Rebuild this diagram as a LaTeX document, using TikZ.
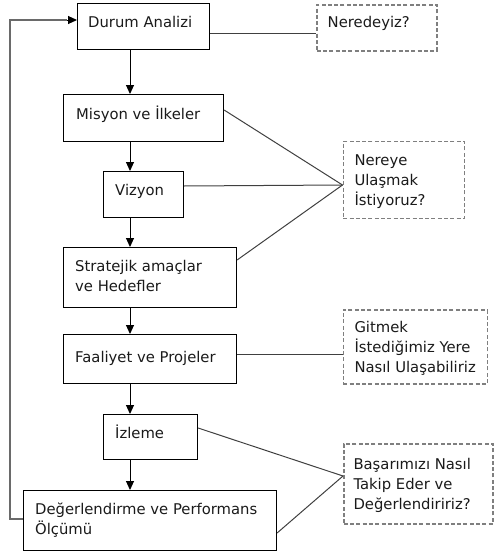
\documentclass[tikz,border=0pt]{standalone}
\usepackage{fontspec}
\setmainfont{DejaVu Sans}
\usetikzlibrary{arrows.meta,calc}
\definecolor{dashgray}{HTML}{7F7F7F}
\definecolor{linegray}{HTML}{404040}
\definecolor{fbgray}{HTML}{6A6A6A}
\definecolor{textblack}{HTML}{1A1A1A}
\begin{document}
\begin{tikzpicture}[x=1pt,y=-1pt,
 box/.style={draw=black, line width=1.1pt, anchor=north west, inner sep=0pt},
 qbox/.style={draw=dashgray, line width=1.5pt, dash pattern=on 4pt off 2.3pt, anchor=north west, inner sep=0pt},
 txt/.style={anchor=base west, inner sep=0pt, font=\fontsize{14.8}{20}\selectfont, align=left, text=textblack},
 conn/.style={draw=linegray, line width=1pt},
 fb/.style={draw=fbgray, line width=1.4pt},
 arr/.style={draw=black, line width=1pt, -{Triangle[length=9pt,width=8pt]}},
]
\useasboundingbox (0,0) rectangle (494,554);

% boxes
\node[box, minimum width=132pt, minimum height=46pt] (durum) at (77,3) {};
\node[qbox, minimum width=120pt, minimum height=46pt] (nered) at (316,4) {};
\node[box, minimum width=160pt, minimum height=47pt] (misyon) at (63,94) {};
\node[box, minimum width=80pt, minimum height=46pt] (vizyon) at (103,171) {};
\node[qbox, minimum width=121pt, minimum height=77pt] (nereye) at (342.5,140.5) {};
\node[box, minimum width=173pt, minimum height=60pt] (strat) at (63,247) {};
\node[box, minimum width=173pt, minimum height=49pt] (faal) at (63,334) {};
\node[qbox, minimum width=144pt, minimum height=74pt] (gitmek) at (342.5,309) {};
\node[box, minimum width=94pt, minimum height=45pt] (izleme) at (103,414) {};
\node[qbox, minimum width=149pt, minimum height=80pt] (basar) at (343,443) {};
\node[box, minimum width=253pt, minimum height=60pt] (deger) at (23,490) {};

% texts (base = baseline of last line)
\node[txt] (tdurum) at (88,27.5) {Durum Analizi};
\node[txt] (tnered) at (327.5,27.7) {Neredeyiz?};
\node[txt] (tmisyon) at (76,119) {Misyon ve İlkeler};
\node[txt] (tvizyon) at (115,195.7) {Vizyon};
\node[txt] (tnereye) at (354.3,205.7) {Nereye\\Ulaşmak\\İstiyoruz?};
\node[txt] (tstrat) at (75,291.7) {Stratejik amaçlar\\ve Hedefler};
\node[txt] (tfaal) at (75,362.7) {Faaliyet ve Projeler};
\node[txt] (tgitmek) at (354.3,372.3) {Gitmek\\İstediğimiz Yere\\Nasıl Ulaşabiliriz};
\node[txt] (tizleme) at (115,438.3) {İzleme};
\node[txt] (tbasar) at (353.3,509) {Başarımızı Nasıl\\Takip Eder ve\\Değerlendiririz?};
\node[txt] (tdeger) at (35,534) {Değerlendirme ve Performans\\Ölçümü};

% vertical arrows
\coordinate (ax) at (130,0);
\draw[arr] (durum.south -| ax) -- (misyon.north -| ax);
\draw[arr] (misyon.south -| ax) -- (vizyon.north -| ax);
\draw[arr] (vizyon.south -| ax) -- (strat.north -| ax);
\draw[arr] (strat.south -| ax) -- (faal.north -| ax);
\draw[arr] (faal.south -| ax) -- (izleme.north -| ax);
\draw[arr] (izleme.south -| ax) -- (deger.north -| ax);

% connectors to question boxes
\coordinate (q1) at ($(nered.north west)+(0,29)$);
\draw[conn] (durum.east |- q1) -- (q1);

\coordinate (q2) at ($(nereye.north west)+(0,44.5)$);
\draw[conn] ($(misyon.north east)+(0,16)$) -- (q2);
\draw[conn] ($(vizyon.north east)+(0,15)$) -- (q2);
\draw[conn] ($(strat.north east)+(0,13)$) -- (q2);

\coordinate (q3) at ($(gitmek.north west)+(0,45)$);
\draw[conn] (faal.east |- q3) -- (q3);

\coordinate (q4) at ($(basar.north west)+(0,33)$);
\draw[conn] ($(izleme.north east)+(0,14)$) -- (q4);
\draw[conn] ($(deger.north east)+(0,43)$) -- (q4);

% feedback loop
\coordinate (fbx) at (10,0);
\coordinate (fbbot) at ($(deger.north west)+(0,29)$);
\coordinate (fbtop) at ($(durum.north west)+(0,17)$);
\coordinate (fbend) at ($(durum.north west)+(-10,17)$);
\draw[fb] (fbbot) -- (fbbot -| fbx) -- (fbtop -| fbx) -- (fbend);
\draw[arr] (fbend) -- (fbtop);
\end{tikzpicture}
\end{document}
